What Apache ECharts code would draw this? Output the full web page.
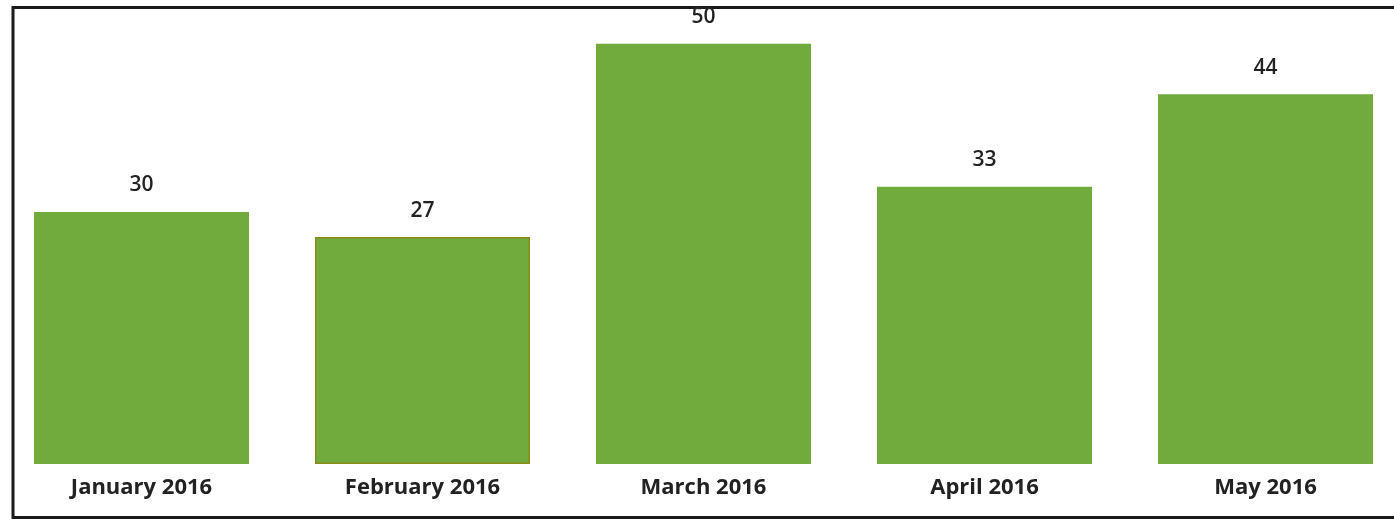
<!DOCTYPE html>
<html>
<head>
<meta charset="utf-8">
<script src="https://cdn.jsdelivr.net/npm/echarts@6/dist/echarts.min.js"></script>
<style>
  html, body { margin: 0; padding: 0; background: #fff; overflow: hidden; }
  #chart { width: 1410px; height: 521px; }
</style>
</head>
<body>
<div id="chart"></div>
<script>
const categories = ['January 2016', 'February 2016', 'March 2016', 'April 2016', 'May 2016'];
const values = [30, 27, 50, 33, 44];

const chart = echarts.init(document.getElementById('chart'), null, { renderer: 'canvas' });

const barData = values.map((v, i) => i === 1
  ? { value: v, itemStyle: { borderColor: '#8a8a1a', borderWidth: 1.5 } }
  : v);

chart.setOption({
  animation: false,
  backgroundColor: '#ffffff',
  grid: { left: 1, right: 4, top: 27, bottom: 57, containLabel: false },
  xAxis: {
    type: 'category',
    data: categories,
    axisLine: { show: false },
    axisTick: { show: false },
    axisLabel: {
      margin: 13,
      fontFamily: 'Open Sans',
      fontWeight: 'bold',
      fontSize: 22,
      color: '#222222'
    }
  },
  yAxis: {
    type: 'value',
    min: 0,
    max: 52,
    show: false,
    splitLine: { show: false }
  },
  series: [{
    type: 'bar',
    data: barData,
    barWidth: 215,
    itemStyle: { color: '#71AB3D' },
    label: {
      show: true,
      position: 'top',
      distance: 16,
      fontFamily: 'Open Sans',
      fontWeight: 600,
      fontSize: 21,
      color: '#222222'
    }
  }],
  graphic: [{
    type: 'rect',
    shape: { x: 13, y: 7.5, width: 1420, height: 510 },
    style: { fill: 'none', stroke: '#1a1a1a', lineWidth: 3 },
    silent: true
  }]
});
</script>
</body>
</html>
